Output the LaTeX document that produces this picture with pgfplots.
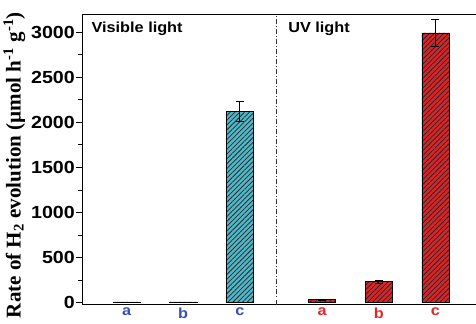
\documentclass[border={0pt 1pt 0pt 8pt}]{standalone}
\usepackage{fontspec}
\setmainfont{Liberation Sans}[FakeStretch=1.12]
\newfontfamily\serifb{Liberation Serif}[BoldFont={* Bold}]
\usepackage{pgfplots}
\pgfplotsset{compat=1.18}
\usetikzlibrary{patterns.meta}
\definecolor{tealbar}{RGB}{78,184,200}
\definecolor{redbar}{RGB}{218,36,40}
\definecolor{lblue}{RGB}{55,80,175}
\definecolor{lred}{RGB}{225,40,40}
\begin{document}
\begin{tikzpicture}[trim axis right]
\begin{axis}[
  scale only axis, width=393pt, height=290pt,
  xmin=0.22, xmax=7.166, ymin=-20, ymax=3200,
  axis x line=box, axis y line=left,
  axis line style={line width=0.8pt, -},
  xtick={1,2,3,4.45,5.45,6.45},
  xticklabels={\textcolor{lblue}{a},\textcolor{lblue}{b},\textcolor{lblue}{c},\textcolor{lred}{a},\textcolor{lred}{b},\textcolor{lred}{c}},
  x tick label style={font=\fontsize{14.5}{14.5}\selectfont\bfseries, yshift=6pt},
  major x tick style={draw=none},
  ytick={0,500,1000,1500,2000,2500,3000},
  yticklabels={0,500,1000,1500,2000,2500,3000},
  minor y tick num=1,
  tick align=outside,
  major tick length=6pt, minor tick length=4pt,
  tick style={line width=0.8pt, black},
  y tick label style={font=\fontsize{17.5}{17.5}\selectfont\bfseries, xshift=2pt},
  ylabel={\serifb\bfseries Rate of H\textsubscript{2} evolution (µmol h\textsuperscript{-1} g\textsuperscript{-1})},
  ylabel style={font=\fontsize{21}{21}\selectfont, at={(ticklabel cs:0.48)}, yshift=-1pt},
  ybar, bar width=0.48, bar shift=0pt,
  clip=false,
]
\addplot[draw=black, line width=0.6pt, fill=tealbar,
  postaction={pattern={Lines[angle=45,distance=3.4pt,line width=0.75pt]}, pattern color=black!85},
  error bars/.cd, y dir=both, y explicit,
  error bar style={line width=0.8pt, black},
  error mark options={rotate=90, mark size=4pt, line width=0.8pt, black}]
  coordinates {(1,8) +- (0,0) (2,8) +- (0,0) (3,2125) +- (0,110)};
\addplot[draw=black, line width=0.6pt, fill=redbar,
  postaction={pattern={Lines[angle=45,distance=3.4pt,line width=0.75pt]}, pattern color=black!85},
  error bars/.cd, y dir=both, y explicit,
  error bar style={line width=0.8pt, black},
  error mark options={rotate=90, mark size=4pt, line width=0.8pt, black}]
  coordinates {(4.45,35) +- (0,5) (5.45,232) +- (0,15) (6.45,2990) +- (0,145)};
\draw[black!80, line width=0.7pt, dash pattern=on 5pt off 2pt on 1pt off 2pt]
  (axis cs:3.65,-20) -- (axis cs:3.65,3200);
\node[anchor=north west, font=\fontsize{14.5}{14.5}\selectfont\bfseries, inner sep=0pt]
  at (axis cs:0.38,3110) {Visible light};
\node[anchor=north west, font=\fontsize{14.5}{14.5}\selectfont\bfseries, inner sep=0pt]
  at (axis cs:3.85,3110) {UV light};
\end{axis}
\end{tikzpicture}
\end{document}
